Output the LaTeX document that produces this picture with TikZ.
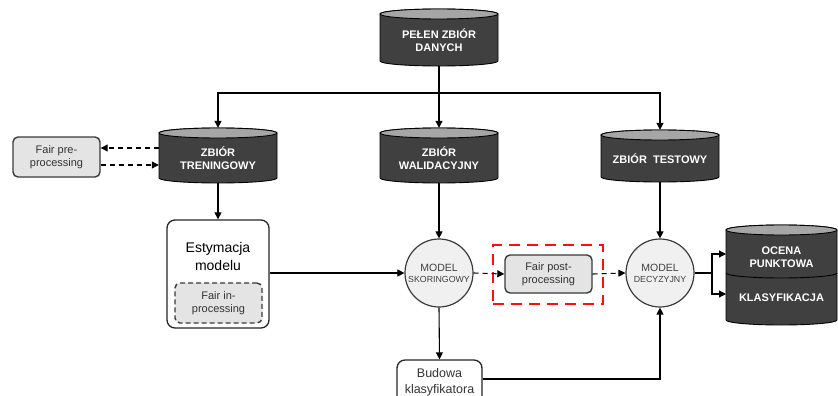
\documentclass[tikz,border=0pt]{standalone}
\usepackage{fontspec}
\setmainfont{Liberation Sans}
\usetikzlibrary{arrows.meta}
\definecolor{cylbody}{HTML}{404040}
\definecolor{cyltop}{HTML}{A6A6A6}
\definecolor{boxgray}{HTML}{E4E4E4}
\definecolor{circfill}{HTML}{F0F0F0}
\definecolor{edgegray}{HTML}{3A3A3A}
\definecolor{redd}{HTML}{FF1010}
\newcommand{\cylshape}[5]{%
  \path[fill=cylbody, draw=black, line width=0.9pt] (#2-#5,#3+5) -- (#2-#5,#4-5)
    arc[start angle=180,end angle=360,x radius=#5pt,y radius=5pt] -- (#2+#5,#3+5)
    arc[start angle=0,end angle=180,x radius=#5pt,y radius=5pt] -- cycle;
  \path[fill=cyltop, draw=black, line width=0.9pt] (#2,#3+5) ellipse[x radius=#5pt, y radius=5pt];
  \node[minimum width=2*#5pt, minimum height=(#4-#3)*1pt, inner sep=0pt] (#1) at (#2,{(#3+#4)/2}) {};
}
\tikzset{
  arr/.style={line width=1.1pt, -{Triangle[length=7pt,width=7pt]}},
  plain/.style={line width=1.1pt},
  darr/.style={line width=1.1pt, dash pattern=on 5pt off 4pt, -{Triangle[length=7pt,width=7pt]}},
  cyltext/.style={text=white, font=\fontsize{11}{13}\selectfont\bfseries, align=center, inner sep=0pt},
  fairbox/.style={draw=edgegray, line width=1.4pt, fill=boxgray, rounded corners=5pt, align=center,
    font=\fontsize{11}{13}\selectfont, text=black!80, inner sep=0pt},
  whitebox/.style={draw=black!85, line width=1.3pt, fill=white, rounded corners=8pt, align=center, inner sep=0pt},
  circ/.style={circle, draw=edgegray, line width=1.2pt, fill=circfill, minimum size=68pt, inner sep=0pt, align=center, text=black!75},
  reddash/.style={draw=redd, line width=2.6pt, dash pattern=on 11pt off 7pt, inner sep=0pt}
}
\begin{document}
\begin{tikzpicture}[x=1pt,y=-1pt]
\useasboundingbox (0,0) rectangle (838,396);
% cylinders
\cylshape{full}{439}{9}{66}{59}
\node[cyltext] (full-t) at ([yshift=-3pt]full.center) {PEŁEN ZBIÓR\\DANYCH};
\cylshape{train}{218}{128}{183}{59}
\node[cyltext] (train-t) at ([yshift=-3pt]train.center) {ZBIÓR\\TRENINGOWY};
\cylshape{valid}{439}{128}{183}{59}
\node[cyltext] (valid-t) at ([yshift=-3pt]valid.center) {ZBIÓR\\WALIDACYJNY};
\cylshape{test}{660}{130}{182}{59}
\node[cyltext] (test-t) at ([yshift=-3pt]test.center) {ZBIÓR\ \ TESTOWY};
\cylshape{out}{781.5}{225}{325}{55.5}
\draw[line width=0.9pt] (726,273) arc[start angle=180,end angle=360,x radius=55.5pt,y radius=5pt];
\node[cyltext] (oc) at (781.5,257) {OCENA\\PUNKTOWA};
\node[cyltext] (kl) at (781.5,298) {KLASYFIKACJA};
% boxes
\node[fairbox, minimum width=87pt, minimum height=40pt] (pre) at (56.5,157) {Fair pre-\\processing};
\node[whitebox, minimum width=102pt, minimum height=108pt] (est) at (218,274) {};
\node[align=center, font=\fontsize{14}{18}\selectfont, inner sep=0pt] (est-t) at (218,256) {Estymacja\\modelu};
\node[fairbox, dashed, dash pattern=on 5pt off 3pt, minimum width=87pt, minimum height=40pt] (fin) at (218.5,303) {Fair in-\\processing};
\node[circ] (skor) at (439,273) {\fontsize{10.5}{12}\selectfont MODEL\\[-1pt]\fontsize{8.8}{10}\selectfont SKORINGOWY};
\node[reddash, minimum width=110pt, minimum height=59pt] (redb) at (548,274.5) {};
\node[fairbox, minimum width=87pt, minimum height=38pt] (post) at (548.5,274) {Fair post-\\processing};
\node[circ] (dec) at (660,273) {\fontsize{10.5}{12}\selectfont MODEL\\[-1pt]\fontsize{8.8}{10}\selectfont DECYZYJNY};
\node[whitebox, minimum width=85pt, minimum height=44pt, font=\fontsize{12.5}{16}\selectfont, text=black!80] (bud) at (439.5,382) {Budowa\\klasyfikatora};
% connectors
\coordinate (split) at (439,93);
\draw[plain] (full.south) -- (split);
\draw[arr] (split) -- (valid.north);
\draw[arr] (split) -| (train.north);
\draw[arr] (split) -| (test.north);
\draw[darr] (train.west |- 0,148) -- (pre.east |- 0,148);
\draw[darr] (pre.east |- 0,165) -- (train.west |- 0,165);
\draw[arr] (train.south) -- (est.north);
\draw[arr] (est.east |- skor.west) -- (skor.west);
\draw[arr] (valid.south) -- (skor.north);
\draw[darr] (skor.east) -- (post.west);
\draw[darr] (post.east) -- (dec.west);
\draw[arr] (test.south) -- (dec.north);
\draw[arr] (skor.south) -- (bud.north);
\draw[arr] ([yshift=3pt]bud.east) -| (dec.south);
\coordinate (br) at (712,273);
\coordinate (o1) at (726,254);
\coordinate (o2) at (726,294);
\draw[plain] (dec.east) -- (br);
\draw[arr] (br) |- (o1);
\draw[arr] (br) |- (o2);
\end{tikzpicture}
\end{document}
